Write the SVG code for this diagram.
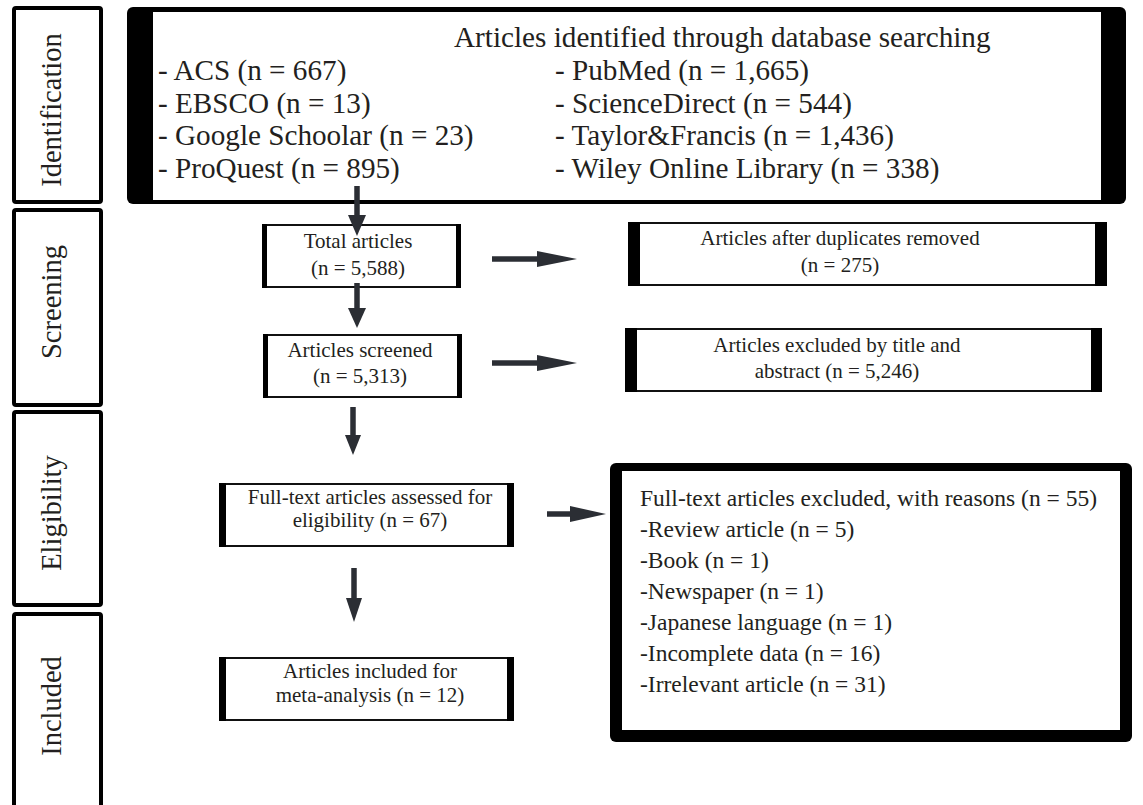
<svg xmlns="http://www.w3.org/2000/svg" width="1143" height="805" viewBox="0 0 1143 805">
<style>
text{font-family:"Liberation Serif","Times New Roman",serif;fill:#231f20}
.phase{font-size:28.5px}
.big{font-size:29.2px}
.sm{font-size:21px}
.md{font-size:23.5px}
.pbox{fill:#fff;stroke:#000;stroke-width:4}
.box{fill:#fff;stroke:#111;stroke-width:2}
.bar{fill:#000}
.ln{stroke:#2b2e34;stroke-width:5.5;fill:none}
.hd{fill:#2b2e34}
</style>
<rect width="1143" height="805" fill="#fff"/>
<g id="phase-identification">
<rect class="pbox" x="14" y="8" width="87" height="194" rx="2"/>
<text class="phase" transform="translate(61,110) rotate(-90)" text-anchor="middle">Identification</text>
</g>
<g id="phase-screening">
<rect class="pbox" x="14" y="210" width="87" height="195" rx="2"/>
<text class="phase" transform="translate(61,302) rotate(-90)" text-anchor="middle">Screening</text>
</g>
<g id="phase-eligibility">
<rect class="pbox" x="14" y="412" width="87" height="193" rx="2"/>
<text class="phase" transform="translate(61,513) rotate(-90)" text-anchor="middle">Eligibility</text>
</g>
<g id="phase-included">
<rect class="pbox" x="14" y="614" width="87" height="200" rx="2"/>
<text class="phase" transform="translate(61,706) rotate(-90)" text-anchor="middle">Included</text>
</g>
<g id="identified">
<rect class="bar" x="127" y="7" width="999" height="197" rx="6"/>
<rect fill="#fff" x="153" y="12" width="948" height="188"/>
<text class="big" x="454" y="47">Articles identified through database searching</text>
<text class="big" x="158" y="80">- ACS (n = 667)</text>
<text class="big" x="158" y="112.5">- EBSCO (n = 13)</text>
<text class="big" x="158" y="145">- Google Schoolar (n = 23)</text>
<text class="big" x="158" y="177.5">- ProQuest (n = 895)</text>
<text class="big" x="555" y="80">- PubMed (n = 1,665)</text>
<text class="big" x="555" y="112.5">- ScienceDirect (n = 544)</text>
<text class="big" x="555" y="145">- Taylor&amp;Francis (n = 1,436)</text>
<text class="big" x="555" y="177.5">- Wiley Online Library (n = 338)</text>
</g>
<g id="total">
<rect class="box" x="263" y="225" width="196" height="62"/>
<rect class="bar" x="262" y="224" width="5" height="64"/>
<rect class="bar" x="456" y="224" width="5" height="64"/>
<text class="sm" x="358" y="248" text-anchor="middle">Total articles</text>
<text class="sm" x="358" y="275" text-anchor="middle">(n = 5,588)</text>
</g>
<g id="screened">
<rect class="box" x="264" y="335" width="196" height="62"/>
<rect class="bar" x="263" y="334" width="5" height="64"/>
<rect class="bar" x="457" y="334" width="5" height="64"/>
<text class="sm" x="360" y="357" text-anchor="middle">Articles screened</text>
<text class="sm" x="360" y="383" text-anchor="middle">(n = 5,313)</text>
</g>
<g id="duplicates">
<rect class="box" x="629" y="223" width="477" height="62"/>
<rect class="bar" x="628" y="222" width="12" height="64"/>
<rect class="bar" x="1095" y="222" width="12" height="64"/>
<text class="sm" x="840" y="245" text-anchor="middle">Articles after duplicates removed</text>
<text class="sm" x="840" y="272" text-anchor="middle">(n = 275)</text>
</g>
<g id="excluded-title">
<rect class="box" x="626" y="329" width="475" height="62"/>
<rect class="bar" x="625" y="328" width="12" height="64"/>
<rect class="bar" x="1091" y="328" width="11" height="64"/>
<text class="sm" x="837" y="352" text-anchor="middle">Articles excluded by title and</text>
<text class="sm" x="837" y="378" text-anchor="middle">abstract (n = 5,246)</text>
</g>
<g id="fulltext">
<rect class="box" x="220" y="484" width="293" height="62"/>
<rect class="bar" x="219" y="483" width="7" height="64"/>
<rect class="bar" x="507" y="483" width="7" height="64"/>
<text class="sm" x="370" y="504" text-anchor="middle">Full-text articles assessed for</text>
<text class="sm" x="370" y="527" text-anchor="middle">eligibility (n = 67)</text>
</g>
<g id="included">
<rect class="box" x="220" y="658" width="293" height="62"/>
<rect class="bar" x="219" y="657" width="7" height="64"/>
<rect class="bar" x="507" y="657" width="7" height="64"/>
<text class="sm" x="370" y="678" text-anchor="middle">Articles included for</text>
<text class="sm" x="370" y="702" text-anchor="middle">meta-analysis (n = 12)</text>
</g>
<g id="excluded-fulltext">
<rect class="bar" x="610" y="463" width="522" height="279" rx="6"/>
<rect fill="#fff" x="622" y="471" width="498" height="259"/>
<text class="md" x="640" y="506">Full-text articles excluded, with reasons (n = 55)</text>
<text class="md" x="640" y="537">-Review article (n = 5)</text>
<text class="md" x="640" y="568">-Book (n = 1)</text>
<text class="md" x="640" y="599">-Newspaper (n = 1)</text>
<text class="md" x="640" y="630">-Japanese language (n = 1)</text>
<text class="md" x="640" y="661">-Incomplete data (n = 16)</text>
<text class="md" x="640" y="692">-Irrelevant article (n = 31)</text>
</g>
<g id="connectors">
<line class="ln" x1="357" y1="186" x2="357" y2="217"/>
<polygon class="hd" points="348,215 366,215 357,236"/>
<line class="ln" x1="357" y1="283" x2="357" y2="310"/>
<polygon class="hd" points="348,308 366,308 357,328"/>
<line class="ln" x1="492" y1="259" x2="540" y2="259"/>
<polygon class="hd" points="537,251 537,267 577,259"/>
<line class="ln" x1="492" y1="363" x2="540" y2="363"/>
<polygon class="hd" points="537,355 537,371 577,363"/>
<line class="ln" x1="353" y1="407" x2="353" y2="437"/>
<polygon class="hd" points="345,435 361,435 353,455"/>
<line class="ln" x1="354" y1="568" x2="354" y2="600"/>
<polygon class="hd" points="346,598 362,598 354,622"/>
<line class="ln" x1="547" y1="514" x2="572" y2="514"/>
<polygon class="hd" points="570,506 570,522 606,514"/>
</g>
</svg>
